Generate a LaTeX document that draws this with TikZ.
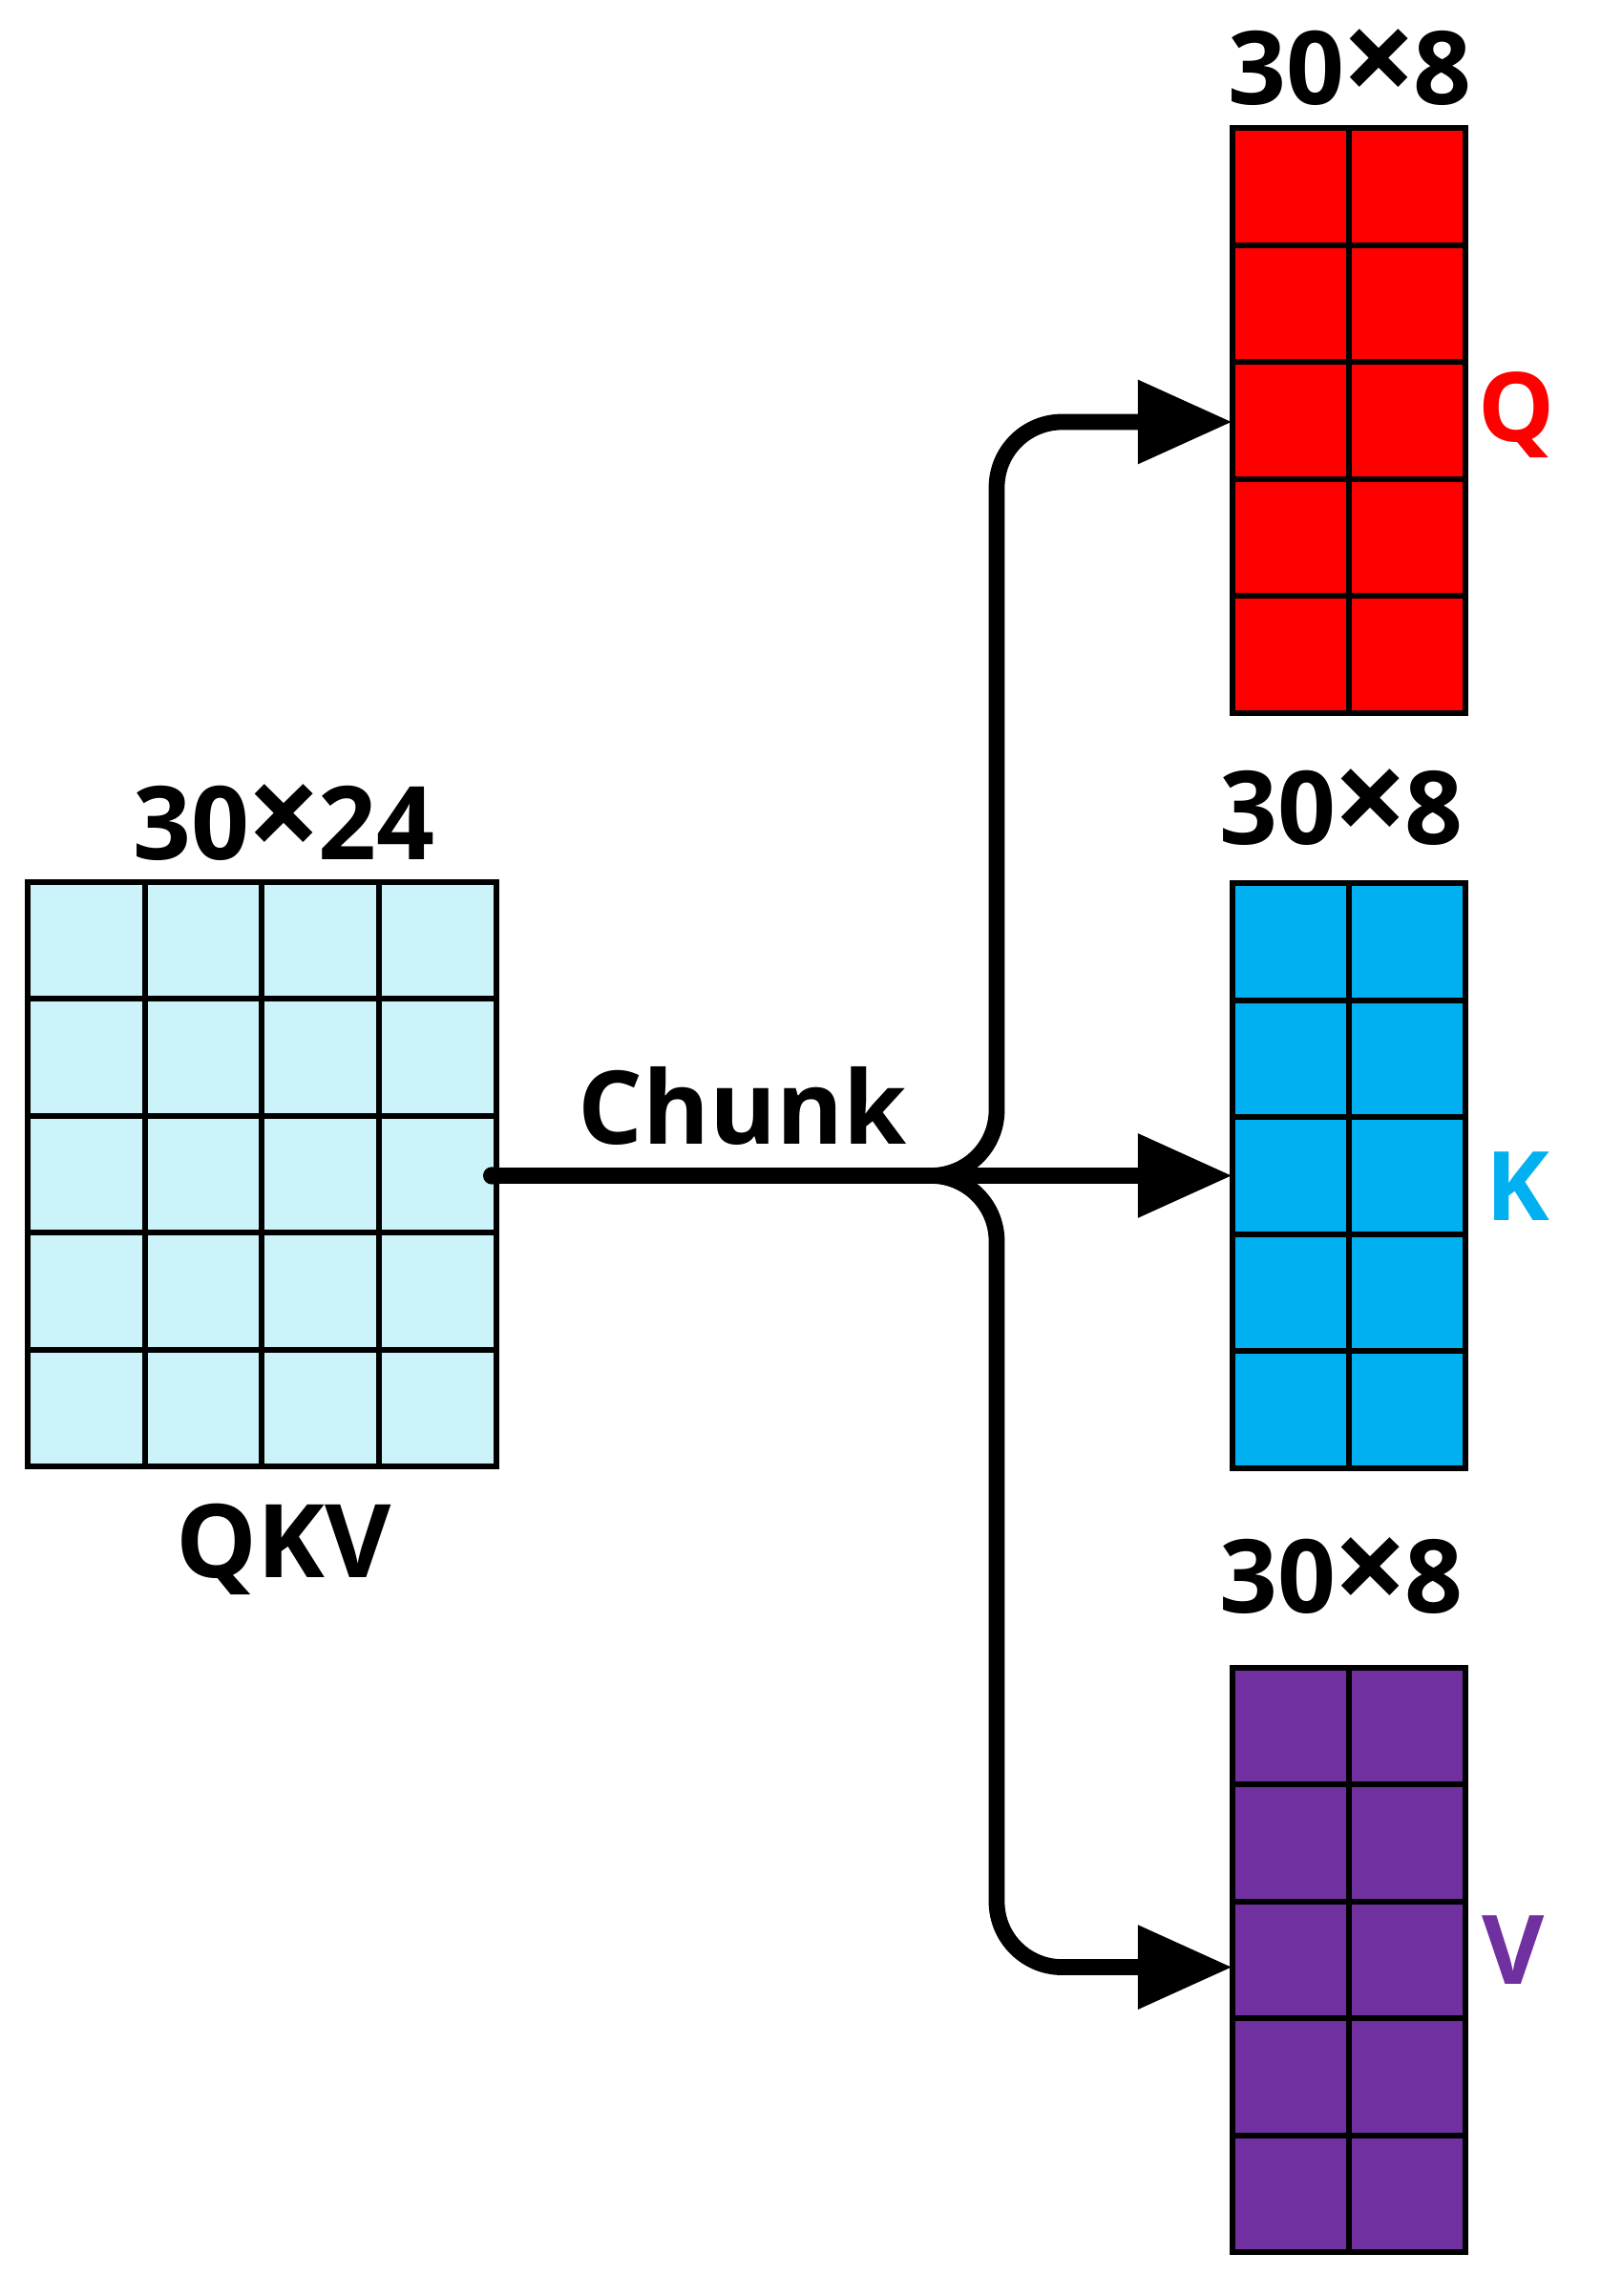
\documentclass[tikz,border=0pt]{standalone}
\usepackage{fontspec}
\setmainfont{Open Sans}
\usetikzlibrary{arrows.meta,calc}
\definecolor{qkvc}{RGB}{204,242,250}
\definecolor{qc}{RGB}{255,0,0}
\definecolor{kc}{RGB}{0,176,240}
\definecolor{vc}{RGB}{112,48,160}
\begin{document}
\begin{tikzpicture}[x=1pt,y=-1pt,
  grid/.style={draw=black,line width=4pt,inner sep=0,outer sep=0,minimum height=402pt},
  lbl/.style={font=\fontsize{70}{76}\selectfont\bfseries},
  side/.style={font=\fontsize{66}{72}\selectfont\bfseries},
  arr/.style={line width=11pt,rounded corners=45pt,-{Triangle[length=65pt,width=55pt]}}]
\useasboundingbox (0,0) rectangle (1100,1578);
\node[grid,fill=qkvc,minimum width=322pt] (qkv) at (180,807) {};
\node[grid,fill=qc,minimum width=160pt] (Q) at (927,289) {};
\node[grid,fill=kc,minimum width=160pt] (K) at (927,808) {};
\node[grid,fill=vc,minimum width=160pt] (V) at (927,1347) {};
\foreach \n in {qkv,Q,K,V}{
  \foreach \i in {1,2,3,4}
    \draw[line width=4pt] ($(\n.north west)!\i/5!(\n.south west)$) -- ($(\n.north east)!\i/5!(\n.south east)$);
}
\foreach \i in {1,2,3}
  \draw[line width=4pt] ($(qkv.north west)!\i/4!(qkv.north east)$) -- ($(qkv.south west)!\i/4!(qkv.south east)$);
\foreach \n in {Q,K,V}
  \draw[line width=4pt] (\n.north) -- (\n.south);
\node[lbl] (t1) at (195,565) {30\kern-2pt{\fontsize{90}{90}\selectfont ×}\kern-2pt24};
\node[lbl] (t2) at (195,1065) {QKV};
\node[lbl] (t3) at (928,46) {30\kern-2pt{\fontsize{90}{90}\selectfont ×}\kern-2pt8};
\node[lbl] (t4) at (922,555) {30\kern-2pt{\fontsize{90}{90}\selectfont ×}\kern-2pt8};
\node[lbl] (t5) at (922,1083) {30\kern-2pt{\fontsize{90}{90}\selectfont ×}\kern-2pt8};
\node[lbl] (ch) at (510,760) {Chunk};
\node[side,text=qc] (lq) at (1042,285) {Q};
\node[side,text=kc] (lk) at (1043,815) {K};
\node[side,text=vc] (lv) at (1040,1340) {V};
\coordinate (s) at (338,808);
\draw[arr] (s) -- (Q.west |- s);
\draw[arr] (s) -- (685,808) -- (685,290) -- (Q.west |- 0,290);
\draw[arr] (s) -- (685,808) -- (685,1352) -- (V.west |- 0,1352);
\fill (s) circle (6pt);
\end{tikzpicture}
\end{document}
